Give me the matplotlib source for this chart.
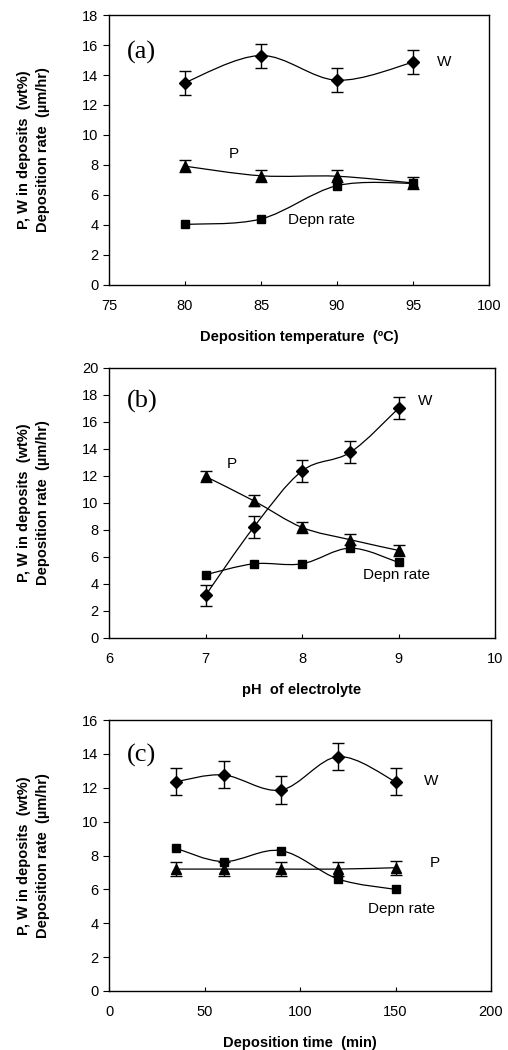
import numpy as np
import matplotlib
matplotlib.use("Agg")
import matplotlib.pyplot as plt
from matplotlib.path import Path
from matplotlib.patches import PathPatch

plt.rcParams['font.family'] = ['Liberation Sans', 'DejaVu Sans']

# (a) deposition temperature
temp = [80, 85, 90, 95]
w_temp = [13.5, 15.3, 13.65, 14.85]
p_temp = [7.92, 7.28, 7.25, 6.8]
rate_temp = [4.04, 4.4, 6.62, 6.78]

# (b) pH of electrolyte
ph = [7, 7.5, 8, 8.5, 9]
w_ph = [3.15, 8.2, 12.36, 13.74, 17.0]
p_ph = [11.95, 10.15, 8.18, 7.27, 6.48]
rate_ph = [4.68, 5.49, 5.49, 6.65, 5.59]

# (c) deposition time
dtime = [35, 60, 90, 120, 150]
w_time = [12.36, 12.76, 11.87, 13.84, 12.36]
p_time = [7.2, 7.2, 7.2, 7.2, 7.28]
rate_time = [8.43, 7.64, 8.29, 6.61, 6.0]

w_err = 0.8
p_err = 0.4


def linea_suave(ax, x, y):
    # curva tipo "smoothed line" de Excel (Catmull-Rom -> Bezier)
    x = np.asarray(x, float)
    y = np.asarray(y, float)
    n = len(x)
    verts = [(x[0], y[0])]
    codes = [Path.MOVETO]
    for i in range(n - 1):
        i0 = max(i - 1, 0)
        i3 = min(i + 2, n - 1)
        c1 = (x[i] + (x[i + 1] - x[i0]) / 6, y[i] + (y[i + 1] - y[i0]) / 6)
        c2 = (x[i + 1] - (x[i3] - x[i]) / 6, y[i + 1] - (y[i3] - y[i]) / 6)
        verts += [c1, c2, (x[i + 1], y[i + 1])]
        codes += [Path.CURVE4] * 3
    ax.add_patch(PathPatch(Path(verts, codes), facecolor='none',
                           edgecolor='black', lw=0.9, zorder=2))


def panel(ax, x, w, p, r, xlim, xticks, ylim, yticks, xlabel, tag, textos, ancho_px):
    linea_suave(ax, x, w)
    linea_suave(ax, x, p)
    linea_suave(ax, x, r)
    ax.errorbar(x, w, yerr=w_err, fmt='D', color='black', ms=6.5,
                capsize=4, elinewidth=1, capthick=1, zorder=3)
    ax.errorbar(x, p, yerr=p_err, fmt='^', color='black', ms=7,
                capsize=4, elinewidth=1, capthick=1, zorder=3)
    ax.plot(x, r, 's', color='black', ms=6, zorder=3)
    ax.set_xlim(xlim)
    ax.set_ylim(ylim)
    ax.set_xticks(xticks)
    ax.set_yticks(yticks)
    ax.tick_params(axis='y', direction='out', length=4, labelsize=10.5)
    ax.tick_params(axis='x', direction='in', length=3, labelsize=10.5, pad=10)
    for s in ax.spines.values():
        s.set_linewidth(1.0)
    ax.set_xlabel(xlabel, fontsize=10.5, fontweight='bold', labelpad=12)
    ax.set_ylabel("P, W in deposits  (wt%)\nDeposition rate  (µm/hr)",
                  fontsize=10.5, fontweight='bold', linespacing=1.45)
    ax.yaxis.set_label_coords((50 - 109) / ancho_px, 0.5)
    ax.text(tag[1], tag[2], tag[0], family='Liberation Serif', fontsize=19,
            va='center', ha='left')
    for t, tx, ty in textos:
        ax.text(tx, ty, t, fontsize=11, va='center', ha='left')


fig = plt.figure(figsize=(5.08, 10.5), dpi=100)
ax1 = fig.add_axes([0.2146, 0.7286, 0.748, 0.2571])
ax2 = fig.add_axes([0.2146, 0.3924, 0.760, 0.2574])
ax3 = fig.add_axes([0.2146, 0.0562, 0.752, 0.2580])

panel(ax1, temp, w_temp, p_temp, rate_temp, (75, 100), range(75, 101, 5),
      (0, 18), range(0, 19, 2), "Deposition temperature  (ºC)",
      ("(a)", 76.2, 15.5),
      [("W", 96.6, 14.9), ("P", 82.9, 8.73), ("Depn rate", 86.8, 4.33)], 380)

panel(ax2, ph, w_ph, p_ph, rate_ph, (6, 10), range(6, 11),
      (0, 20), range(0, 21, 2), "pH  of electrolyte",
      ("(b)", 6.19, 17.5),
      [("W", 9.2, 17.5), ("P", 7.22, 12.9), ("Depn rate", 8.63, 4.66)], 386)

panel(ax3, dtime, w_time, p_time, rate_time, (0, 200), range(0, 201, 50),
      (0, 16), range(0, 17, 2), "Deposition time  (min)",
      ("(c)", 9.4, 13.93),
      [("W", 165, 12.4), ("P", 168, 7.56), ("Depn rate", 135.6, 4.84)], 382)

fig.savefig("out.png", dpi=100)
